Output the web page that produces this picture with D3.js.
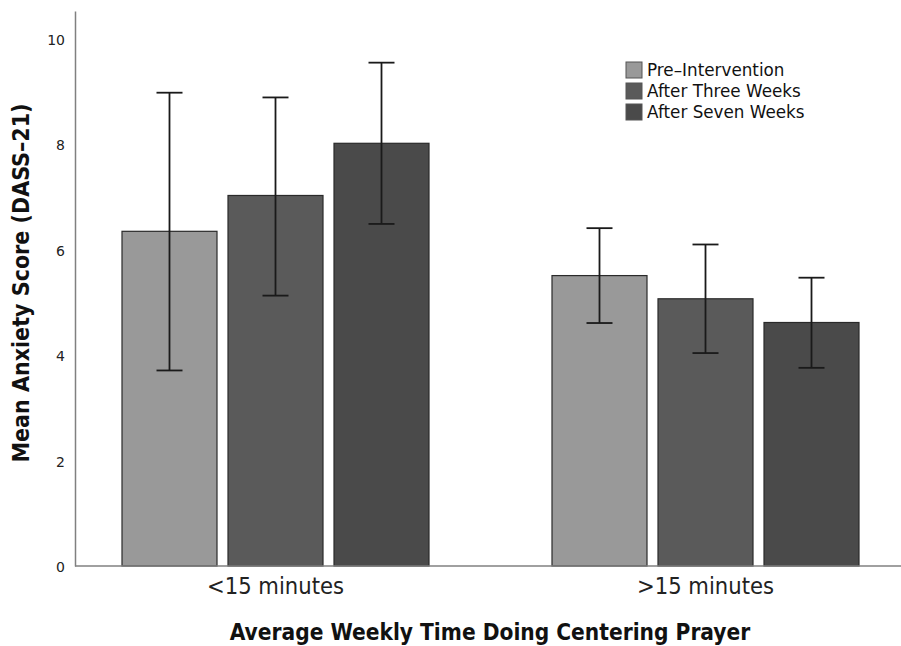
<!DOCTYPE html>
<html><head><meta charset="utf-8">
<script src="https://cdn.jsdelivr.net/npm/d3@7"></script>
<style>body{margin:0;background:#fff}svg{display:block}</style>
</head><body>
<svg id="c" width="901" height="646"></svg>
<script>
const categories = ["<15 minutes", ">15 minutes"];
const seriesNames = ["Pre\u2013Intervention", "After Three Weeks", "After Seven Weeks"];
const meanPre = [6.35, 5.51];
const meanThree = [7.03, 5.07];
const meanSeven = [8.02, 4.62];
const lowPre = [3.71, 4.61];
const lowThree = [5.13, 4.04];
const lowSeven = [6.49, 3.76];
const highPre = [8.98, 6.41];
const highThree = [8.89, 6.10];
const highSeven = [9.55, 5.47];
const yTicks = [0, 2, 4, 6, 8, 10];
const colors = ["#999999", "#5a5a5a", "#4a4a4a"];

const means = [meanPre, meanThree, meanSeven];
const lows = [lowPre, lowThree, lowSeven];
const highs = [highPre, highThree, highSeven];
const rows = [];
categories.forEach((c, ci) => seriesNames.forEach((s, si) => rows.push({c, s, si, m: means[si][ci], lo: lows[si][ci], hi: highs[si][ci]})));

const condensed = "'DejaVu Sans Condensed', 'DejaVu Sans', sans-serif";
const svg = d3.select("#c");
const y = d3.scaleLinear().domain([0, 10.53]).range([566, 11]);
const x0 = d3.scaleBand().domain(categories).range([60.5, 920.5]).padding(0);
const x1 = d3.scaleBand().domain(seriesNames).range([0, 307]).paddingInner(11/106).paddingOuter(0);
const gx = c => x0(c) + (x0.bandwidth() - 307) / 2;

// bars
svg.append("g").selectAll("rect").data(rows).join("rect")
  .attr("x", d => gx(d.c) + x1(d.s))
  .attr("y", d => y(d.m))
  .attr("width", x1.bandwidth())
  .attr("height", d => y(0) - y(d.m))
  .attr("fill", d => colors[d.si])
  .attr("stroke", "#2a2a2a").attr("stroke-width", 1.2);

// error bars
const eb = svg.append("g").attr("stroke", "#1a1a1a").attr("stroke-width", 1.8);
rows.forEach(d => {
  const cx = gx(d.c) + x1(d.s) + x1.bandwidth() / 2;
  eb.append("line").attr("x1", cx).attr("x2", cx).attr("y1", y(d.lo)).attr("y2", y(d.hi));
  eb.append("line").attr("x1", cx - 13).attr("x2", cx + 13).attr("y1", y(d.lo)).attr("y2", y(d.lo));
  eb.append("line").attr("x1", cx - 13).attr("x2", cx + 13).attr("y1", y(d.hi)).attr("y2", y(d.hi));
});

// axes
const yAxis = d3.axisLeft(y).tickValues(yTicks).tickSize(0).tickPadding(10).tickFormat(d3.format("d"));
const ya = svg.append("g").attr("transform", "translate(75,0)").call(yAxis);
ya.select(".domain").attr("stroke", "#808080").attr("stroke-width", 1.5);
ya.selectAll("text").attr("font-family", "DejaVu Sans, sans-serif").attr("font-size", 14).attr("fill", "#222").attr("dy", "0.4em");

svg.append("line").attr("x1", 75).attr("x2", 901).attr("y1", y(0)).attr("y2", y(0))
  .attr("stroke", "#808080").attr("stroke-width", 1.5);

const xAxis = d3.axisBottom(x0).tickSize(0).tickPadding(11);
const xa = svg.append("g").attr("transform", `translate(0,${y(0)})`).call(xAxis);
xa.select(".domain").remove();
xa.selectAll("text").attr("font-family", condensed).attr("font-size", 23.5).attr("fill", "#222");

// titles
svg.append("text").attr("x", 490).attr("y", 640).attr("text-anchor", "middle")
  .attr("font-family", condensed).attr("font-weight", "bold").attr("font-size", 22.5).attr("fill", "#111")
  .text("Average Weekly Time Doing Centering Prayer");
svg.append("text").attr("transform", "translate(29,283) rotate(-90)").attr("text-anchor", "middle")
  .attr("font-family", condensed).attr("font-weight", "bold").attr("font-size", 23).attr("fill", "#111")
  .text("Mean Anxiety Score (DASS\u201321)");

// legend
const lg = svg.append("g").attr("transform", "translate(626,62)");
seriesNames.forEach((s, i) => {
  lg.append("rect").attr("x", 0).attr("y", i * 21).attr("width", 16).attr("height", 16)
    .attr("fill", colors[i]).attr("stroke", "#555").attr("stroke-width", 1);
  lg.append("text").attr("x", 21).attr("y", i * 21 + 14).attr("font-family", "DejaVu Sans, sans-serif")
    .attr("font-size", 16.8).attr("fill", "#111").text(s);
});
</script>
</body></html>
